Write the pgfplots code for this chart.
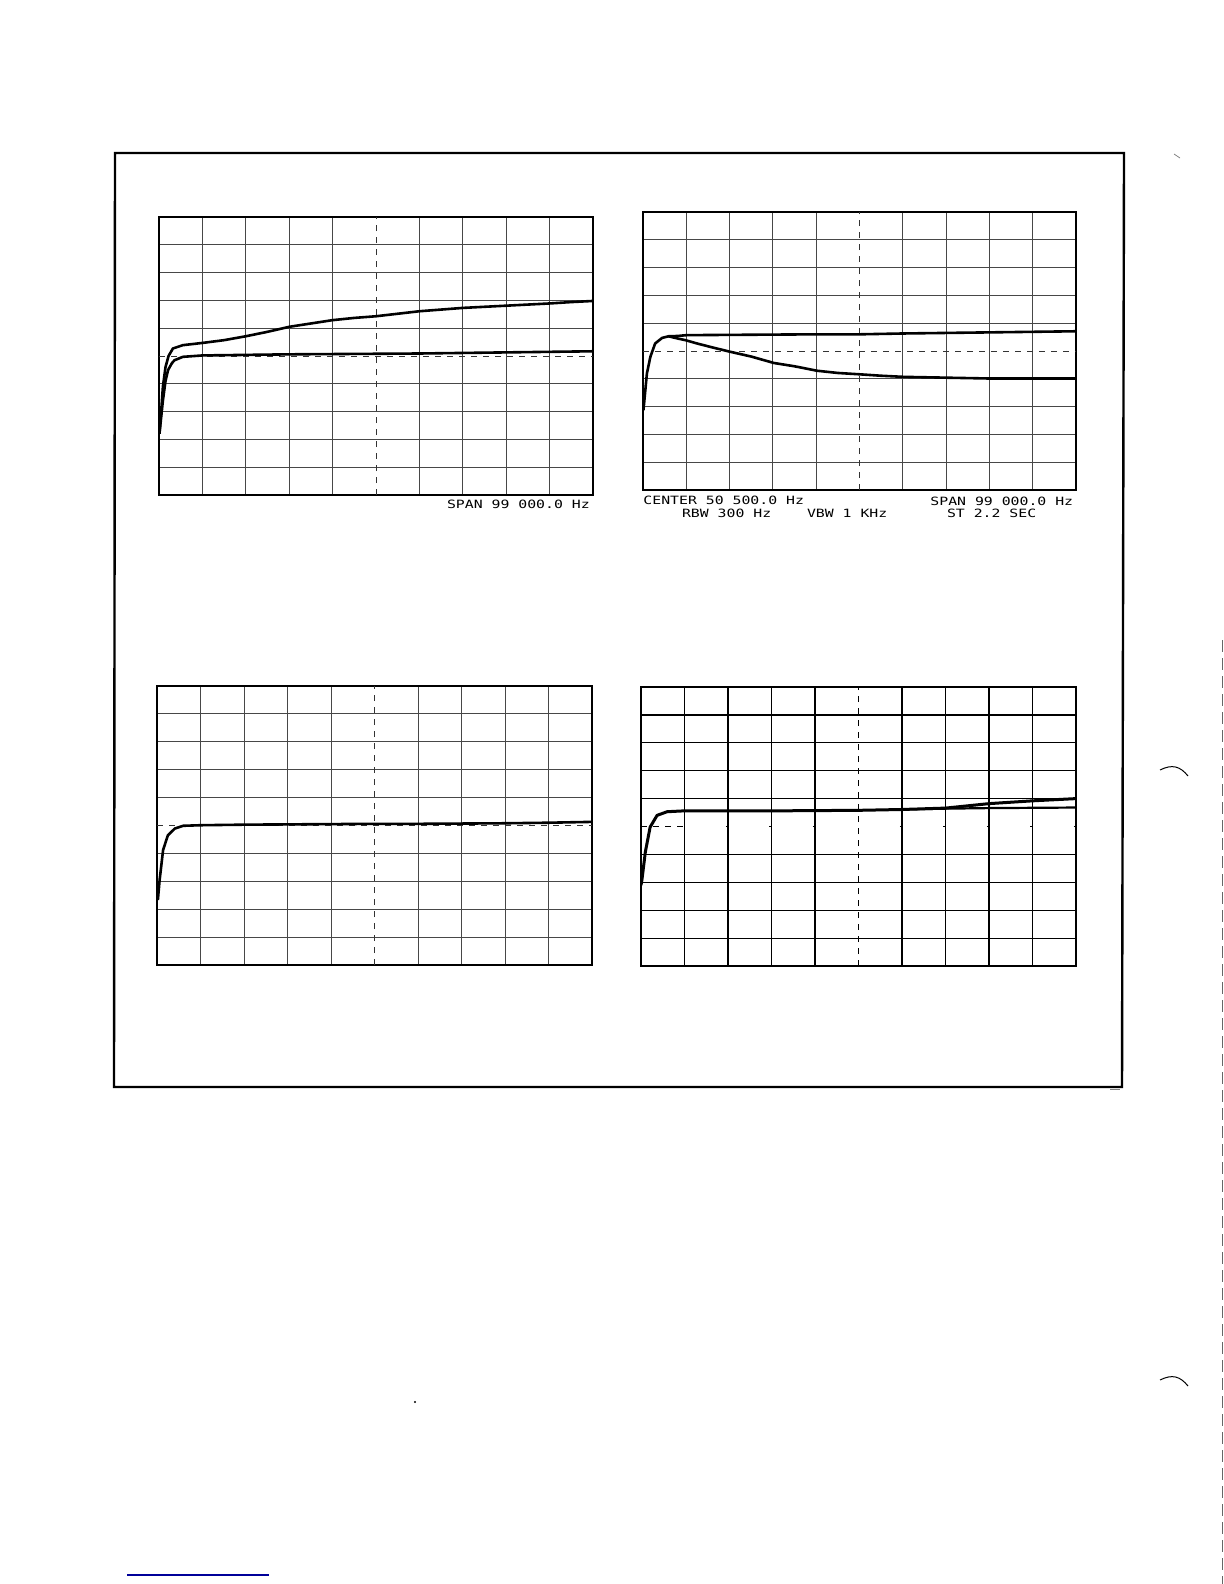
\documentclass[border=0pt]{standalone}
\usepackage{pgfplots}
\pgfplotsset{compat=1.18}
\usepackage{fontspec}
\setmonofont{DejaVu Sans Mono}
\newcommand{\plt}[1]{\scalebox{1.3}[1]{\ttfamily\fontsize{5.7}{6}\selectfont #1}}
\pgfplotsset{
  panel/.style={scale only axis, anchor=north west,
    xmin=0,xmax=10,ymin=0,ymax=10,
    xtick={0,1,2,3,4,6,7,8,9,10}, ytick={0,1,2,3,4,6,7,8,9,10},
    xticklabels={}, yticklabels={}, major tick length=0pt,
    grid=major, major grid style={black!72, line width=0.45pt},
    axis line style={black, line width=0.6pt}},
  trace/.style={black, line width=1.3pt, no marks, line join=round}
}
\begin{document}
\begin{tikzpicture}
\path[use as bounding box] (0,0) rectangle (612pt,-792pt);
% outer frame
\draw[line width=1.2pt] (57.5pt,-76.5pt) -- (562pt,-76.5pt) -- (561pt,-543.5pt) -- (57pt,-543.5pt) -- cycle;

% ---------- panel 1 ----------
\begin{axis}[panel, at={(79.5pt,-108.5pt)}, width=217pt, height=139pt]
\draw[black!80, dashed, line width=0.45pt] (axis cs:5,0) -- (axis cs:5,10);
\draw[black!80, dashed, line width=0.45pt] (axis cs:0,5) -- (axis cs:10,5);
\addplot[trace] coordinates {(0.01,2.2)(0.05,3.0)(0.09,3.9)(0.15,4.6)(0.22,5.0)(0.32,5.27)(0.55,5.39)(1.0,5.47)(1.5,5.57)(2.0,5.71)(2.5,5.87)(3.0,6.05)(3.5,6.17)(4.0,6.29)(4.5,6.37)(5.0,6.43)(5.5,6.52)(6.0,6.61)(6.5,6.67)(7.0,6.73)(7.5,6.77)(8.0,6.81)(8.5,6.85)(9.0,6.89)(9.5,6.94)(10,6.98)};
\addplot[trace] coordinates {(0.01,2.2)(0.05,2.8)(0.09,3.4)(0.15,4.1)(0.21,4.5)(0.3,4.75)(0.36,4.85)(0.55,4.97)(1.0,5.02)(2.0,5.04)(3.0,5.06)(4.0,5.07)(5.0,5.08)(6.0,5.09)(7.0,5.11)(8.0,5.13)(9.0,5.15)(10,5.17)};
\end{axis}
\node[anchor=west, inner sep=0pt] at (223.3pt,-252pt) {\plt{SPAN 99 000.0 Hz}};

% ---------- panel 2 ----------
\begin{axis}[panel, at={(321.5pt,-106pt)}, width=216.5pt, height=139pt]
\draw[black!80, dashed, line width=0.45pt] (axis cs:5,0) -- (axis cs:5,10);
\draw[black!80, dashed, line width=0.45pt] (axis cs:0,5) -- (axis cs:10,5);
\addplot[trace] coordinates {(0.01,2.87)(0.09,4.19)(0.17,4.79)(0.28,5.27)(0.44,5.47)(0.59,5.53)(0.8,5.54)(1.0,5.57)(2.0,5.58)(3.0,5.59)(4.0,5.60)(5.0,5.60)(6.0,5.63)(7.0,5.65)(8.0,5.67)(9.0,5.69)(10,5.71)};
\addplot[trace] coordinates {(0.59,5.53)(0.8,5.45)(0.98,5.39)(1.25,5.27)(1.6,5.13)(2.02,4.97)(2.5,4.8)(3.02,4.57)(3.5,4.45)(4.02,4.29)(4.5,4.21)(5.02,4.16)(5.5,4.11)(6.02,4.07)(7.02,4.04)(8.02,4.01)(9,4.01)(10,4.01)};
\end{axis}
\node[anchor=west, inner sep=0pt] at (321.5pt,-250pt) {\plt{CENTER 50 500.0 Hz}};
\node[anchor=west, inner sep=0pt] at (465pt,-250.5pt) {\plt{SPAN 99 000.0 Hz}};
\node[anchor=west, inner sep=0pt] at (340.8pt,-256.8pt) {\plt{RBW 300 Hz}};
\node[anchor=west, inner sep=0pt] at (403.3pt,-256.8pt) {\plt{VBW 1 KHz}};
\node[anchor=west, inner sep=0pt] at (473.3pt,-256.8pt) {\plt{ST 2.2 SEC}};

% ---------- panel 3 ----------
\begin{axis}[panel, at={(78.5pt,-343pt)}, width=217.5pt, height=139.5pt]
\draw[black!80, dashed, line width=0.45pt] (axis cs:5,0) -- (axis cs:5,10);
\draw[black!80, dashed, line width=0.45pt] (axis cs:0,5) -- (axis cs:10,5);
\addplot[trace] coordinates {(0.02,2.33)(0.06,3.04)(0.14,4.12)(0.25,4.65)(0.41,4.89)(0.6,4.99)(1.0,5.01)(2,5.03)(3,5.04)(4,5.05)(5,5.06)(6,5.06)(7,5.07)(8,5.08)(9,5.10)(10,5.13)};
\end{axis}

% ---------- panel 4 ----------
\begin{axis}[panel, at={(320.5pt,-343.5pt)}, width=217.5pt, height=139.5pt,
  major grid style={black, line width=0.6pt}]
\draw[black, dashed, line width=0.5pt] (axis cs:5,0) -- (axis cs:5,10);
\draw[black, dashed, line width=0.5pt] (axis cs:0,5) -- (axis cs:1,5);
\pgfplotsinvokeforeach{2,3,4,6,7,8,9,10}{\draw[black, line width=0.5pt] (axis cs:#1-0.05,5) -- (axis cs:#1+0.02,5);}
\addplot[trace, line width=1.5pt] coordinates {(0.0,2.9)(0.02,3.07)(0.1,4.09)(0.21,4.98)(0.37,5.40)(0.6,5.53)(0.98,5.56)(2,5.56)(3,5.56)(4,5.57)(5,5.58)(6,5.61)(7,5.66)(8,5.82)(9,5.92)(10,6.0)};
\addplot[trace, line width=1.1pt] coordinates {(6,5.61)(7,5.64)(8,5.66)(9,5.67)(10,5.68)};
\end{axis}

% scan artefacts
\draw[black!60, line width=0.4pt, dash pattern=on 6pt off 3pt] (611pt,-320pt) -- (611pt,-792pt);
\draw[line width=0.5pt] (580pt,-385pt) .. controls (586pt,-382pt) and (590pt,-383pt) .. (594pt,-388pt);
\draw[line width=0.5pt] (580pt,-690pt) .. controls (586pt,-687pt) and (590pt,-688pt) .. (594pt,-693pt);
\draw[black!50, line width=0.4pt] (587pt,-77pt) -- (590pt,-79pt);
\draw[black!50, line width=0.4pt] (555pt,-544.8pt) -- (560pt,-544.8pt);
\draw[blue!60!black, line width=0.6pt] (63.5pt,-787.5pt) -- (134.5pt,-787.5pt);
\fill (207.5pt,-701pt) circle (0.6pt);
\end{tikzpicture}
\end{document}
